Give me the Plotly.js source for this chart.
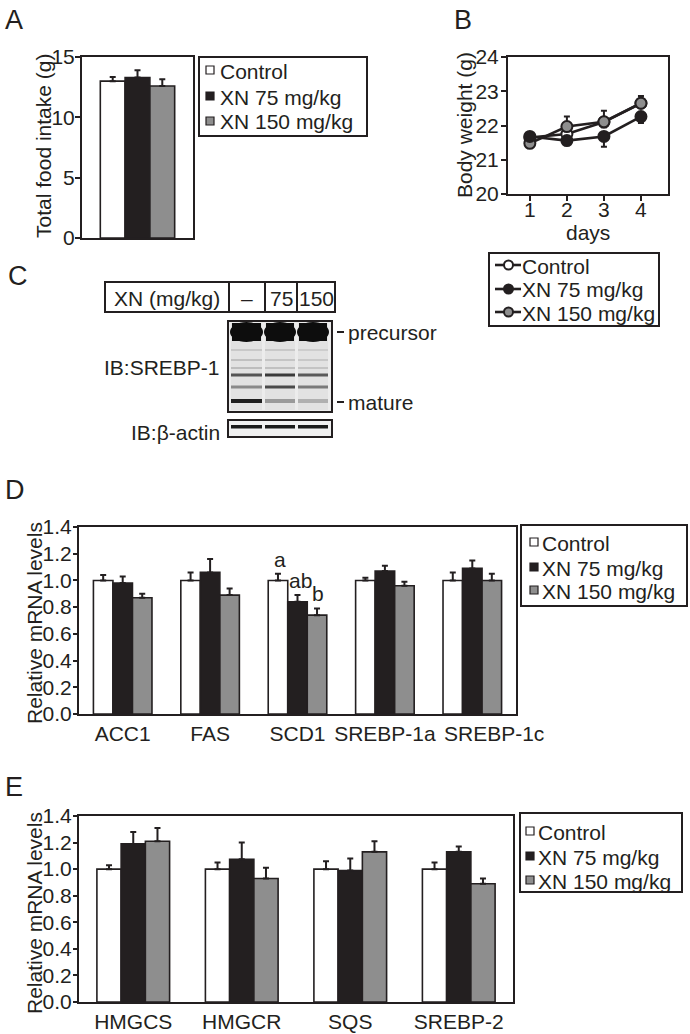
<!DOCTYPE html>
<html>
<head>
<meta charset="utf-8">
<script src="https://cdn.plot.ly/plotly-3.0.1.min.js"></script>
<style>html,body{margin:0;padding:0;background:#fff}#chart{width:690px;height:1034px}</style>
</head>
<body>
<div id="chart"></div>
<script>
// ---------------- DATA ----------------
const groups = ['Control', 'XN 75 mg/kg', 'XN 150 mg/kg'];

// A: total food intake (g)
const foodCategory = ['Total food intake'];
const foodMean = [13.0, 13.3, 12.6];
const foodErr = [0.35, 0.6, 0.55];

// B: body weight (g) by day
const days = [1, 2, 3, 4];
const bwControl = [21.65, 21.75, 22.10, 22.65];
const bwControlErr = [0.08, 0.10, 0.15, 0.12];
const bwXN75 = [21.68, 21.56, 21.68, 22.26];
const bwXN75Err = [0.05, 0.08, 0.30, 0.19];
const bwXN150 = [21.48, 21.97, 22.11, 22.65];
const bwXN150Err = [0.05, 0.29, 0.32, 0.21];

// C: western blot lane labels
const blotDoses = ['–', '75', '150'];

// D: lipogenic genes
const lipoGenes = ['ACC1', 'FAS', 'SCD1', 'SREBP-1a', 'SREBP-1c'];
const lipoControl = [1.00, 1.00, 1.00, 1.00, 1.00];
const lipoControlErr = [0.04, 0.06, 0.05, 0.02, 0.06];
const lipoXN75 = [0.98, 1.06, 0.84, 1.07, 1.09];
const lipoXN75Err = [0.05, 0.10, 0.05, 0.04, 0.06];
const lipoXN150 = [0.87, 0.89, 0.74, 0.96, 1.00];
const lipoXN150Err = [0.03, 0.05, 0.05, 0.03, 0.05];
const scd1Letters = ['a', 'ab', 'b'];

// E: cholesterogenic genes
const cholGenes = ['HMGCS', 'HMGCR', 'SQS', 'SREBP-2'];
const cholControl = [1.00, 1.00, 1.00, 1.00];
const cholControlErr = [0.03, 0.05, 0.06, 0.05];
const cholXN75 = [1.19, 1.075, 0.99, 1.13];
const cholXN75Err = [0.09, 0.125, 0.09, 0.04];
const cholXN150 = [1.21, 0.93, 1.13, 0.89];
const cholXN150Err = [0.10, 0.08, 0.08, 0.04];

// ---------------- STYLE ----------------
const W = 690, H = 1034;
const px = x => x / W;
const py = y => 1 - y / H;
const INK = '#231f20';
const fills = ['#ffffff', '#231f20', '#8e8e8e'];
const REG = '"Liberation Sans", Arial, sans-serif';

const traces = [];

function barTrace(x, y, err, i, xa, ya) {
  return {
    type: 'bar', x: x, y: y, name: groups[i], showlegend: false,
    xaxis: xa, yaxis: ya,
    marker: {color: fills[i], line: {color: INK, width: 1.6}},
    error_y: {type: 'data', symmetric: false, array: err, arrayminus: err.map(() => 0),
              color: INK, thickness: 2, width: 3},
    hoverinfo: 'skip'
  };
}

// A
for (let i = 0; i < 3; i++) {
  traces.push(barTrace(foodCategory, [foodMean[i]], [foodErr[i]], i, 'x', 'y'));
}
// B
const bwSeries = [
  {y: bwControl, e: bwControlErr, i: 0, up: true, down: true},
  {y: bwXN150, e: bwXN150Err, i: 2, up: true, down: false},
  {y: bwXN75, e: bwXN75Err, i: 1, up: false, down: true}
];
bwSeries.forEach(s => {
  traces.push({
    type: 'scatter', mode: 'lines+markers', x: days, y: s.y, name: groups[s.i],
    showlegend: false, xaxis: 'x2', yaxis: 'y2',
    line: {color: INK, width: 2.6},
    marker: {size: 11, color: fills[s.i], line: {color: INK, width: 2}},
    error_y: {type: 'data', symmetric: false,
              array: s.up ? s.e : s.e.map(() => 0),
              arrayminus: s.down ? s.e : s.e.map(() => 0),
              color: INK, thickness: 2, width: 3},
    hoverinfo: 'skip'
  });
});
// D
[[lipoControl, lipoControlErr], [lipoXN75, lipoXN75Err], [lipoXN150, lipoXN150Err]].forEach((d, i) => {
  traces.push(barTrace(lipoGenes, d[0], d[1], i, 'x3', 'y3'));
});
// E
[[cholControl, cholControlErr], [cholXN75, cholXN75Err], [cholXN150, cholXN150Err]].forEach((d, i) => {
  traces.push(barTrace(cholGenes, d[0], d[1], i, 'x4', 'y4'));
});

// ---------------- AXES ----------------
function frame(extra) {
  return Object.assign({
    showline: true, mirror: true, linecolor: INK, linewidth: 2,
    showgrid: false, zeroline: false, fixedrange: true,
    tickcolor: INK, tickwidth: 2
  }, extra);
}
const f21 = {family: REG, size: 21, color: INK};
// tick positions (category index); the last label of D sits a little right of its bars in the reference
const lipoTickPos = lipoGenes.map((g, i) => i === lipoGenes.length - 1 ? i + 0.25 : i);

const layout = {
  width: W, height: H,
  margin: {l: 0, r: 0, t: 0, b: 0},
  paper_bgcolor: '#fff', plot_bgcolor: '#fff',
  showlegend: false,
  barmode: 'group', bargap: 0.33, bargroupgap: 0,
  font: {family: REG, color: INK, size: 21},
  xaxis: frame({domain: [px(82), px(193)], anchor: 'y', type: 'category', range: [-0.5, 0.5],
                showticklabels: false, ticks: ''}),
  yaxis: frame({domain: [py(238), py(57)], anchor: 'x', range: [0, 15], dtick: 5,
                ticks: 'outside', ticklen: 5, ticklabelstandoff: -4, tickfont: f21}),
  xaxis2: frame({domain: [px(508), px(668)], anchor: 'y2', range: [0.41, 4.73], tickvals: days,
                 ticks: 'outside', ticklen: 5, ticklabelstandoff: -9, tickfont: f21}),
  yaxis2: frame({domain: [py(194), py(57)], anchor: 'x2', range: [20, 24], dtick: 1,
                 ticks: 'outside', ticklen: 5, ticklabelstandoff: -2, tickfont: f21}),
  xaxis3: frame({domain: [px(79), px(516)], anchor: 'y3', type: 'category', range: [-0.5, 4.5],
                 ticks: '', tickangle: 0, tickmode: 'array', tickvals: lipoTickPos, ticktext: lipoGenes,
                 tickfont: f21}),
  yaxis3: frame({domain: [py(714), py(527)], anchor: 'x3', range: [0, 1.4], dtick: 0.2, tickformat: '.1f',
                 ticks: 'outside', ticklen: 4, ticklabelstandoff: -3, tickfont: f21}),
  xaxis4: frame({domain: [px(79), px(513)], anchor: 'y4', type: 'category', range: [-0.5, 3.5],
                 ticks: '', tickangle: 0, tickfont: f21}),
  yaxis4: frame({domain: [py(1002), py(816)], anchor: 'x4', range: [0, 1.4], dtick: 0.2, tickformat: '.1f',
                 ticks: 'outside', ticklen: 4, ticklabelstandoff: -3, tickfont: f21}),
  shapes: [],
  annotations: []
};

const S = layout.shapes, A = layout.annotations;
function rectPx(x0, y0, x1, y1, fill, lineW, lineC) {
  S.push({type: 'rect', xref: 'paper', yref: 'paper', x0: px(x0), x1: px(x1), y0: py(y1), y1: py(y0),
          fillcolor: fill || 'rgba(0,0,0,0)', line: {width: lineW || 0, color: lineC || INK}});
}
function ellPx(x0, y0, x1, y1, fill, lineW) {
  S.push({type: 'circle', xref: 'paper', yref: 'paper', x0: px(x0), x1: px(x1), y0: py(y1), y1: py(y0),
          fillcolor: fill, line: {width: lineW || 0, color: INK}});
}
function linePx(x0, y0, x1, y1, w) {
  S.push({type: 'line', xref: 'paper', yref: 'paper', x0: px(x0), x1: px(x1), y0: py(y0), y1: py(y1),
          line: {width: w || 2, color: INK}});
}
function textPx(x, y, t, size, anchor, angle) {
  A.push({xref: 'paper', yref: 'paper', x: px(x), y: py(y), text: t, showarrow: false,
          xanchor: anchor || 'left', yanchor: 'middle', textangle: angle || 0,
          font: {family: REG, size: size || 21, color: INK}});
}

// panel labels
textPx(3, 20, 'A', 27, 'left');
textPx(452, 20, 'B', 27, 'left');
textPx(6, 276, 'C', 27, 'left');
textPx(3, 490, 'D', 27, 'left');
textPx(3, 787, 'E', 27, 'left');

// axis titles
textPx(44, 146, 'Total food intake (g)', 21, 'center', -90);
textPx(465, 125, 'Body weight (g)', 21, 'center', -90);
textPx(588, 233, 'days', 21, 'center');
textPx(34, 623, 'Relative mRNA levels', 21, 'center', -90);
textPx(34, 913, 'Relative mRNA levels', 21, 'center', -90);

// Legend A (bars)
rectPx(199, 57, 367, 136, '#fff', 2);
[70, 96, 121].forEach((yy, i) => {
  rectPx(206, yy - 4, 214, yy + 4, fills[i], 1.2);
  textPx(218, yy + 1, groups[i], 21, 'left');
});
// Legend B (lines)
rectPx(489, 253, 659, 326, '#fff', 2);
[265, 289, 312].forEach((yy, i) => {
  linePx(495, yy, 521, yy, 2.6);
  ellPx(504, yy - 4.5, 513, yy + 4.5, fills[i], 2);
  textPx(520, yy + 1, groups[i], 21, 'left');
});
// Legend D
rectPx(521, 525, 687, 606, '#fff', 2);
[542, 567, 590].forEach((yy, i) => {
  rectPx(530, yy - 4, 538, yy + 4, fills[i], 1.2);
  textPx(540, yy + 1, groups[i], 21, 'left');
});
// Legend E
rectPx(520, 813, 682, 892, '#fff', 2);
[831, 856, 880].forEach((yy, i) => {
  rectPx(526, yy - 4, 534, yy + 4, fills[i], 1.2);
  textPx(536, yy + 1, groups[i], 21, 'left');
});

// SCD1 significance letters (above each bar of the SCD1 group)
const scdIdx = lipoGenes.indexOf('SCD1');
const scdVals = [lipoControl[scdIdx], lipoXN75[scdIdx], lipoXN150[scdIdx]];
const scdErrs = [lipoControlErr[scdIdx], lipoXN75Err[scdIdx], lipoXN150Err[scdIdx]];
const letterShift = [-18, 3, 20];
scd1Letters.forEach((t, i) => {
  A.push({xref: 'x3', yref: 'y3', x: 'SCD1', y: scdVals[i] + scdErrs[i] + 0.11, text: t,
          showarrow: false, xshift: letterShift[i], yanchor: 'middle',
          font: {family: REG, size: 21, color: INK}});
});

// Panel C: dose table
rectPx(105, 282, 335, 312, '#fff', 2);
[229, 265, 297].forEach(xx => linePx(xx, 282, xx, 312, 2));
textPx(167, 298, 'XN (mg/kg)', 21, 'center');
const laneCenters = [247, 281, 316];
blotDoses.forEach((t, i) => textPx(laneCenters[i], 298, t, 21, 'center'));

// SREBP-1 blot (illustration)
rectPx(228, 321, 332, 412, '#ececec', 0);
const lanes = [[231, 262], [265, 295], [298, 328]];
lanes.forEach(l => rectPx(l[0], 323, l[1], 410, '#e2e2e2', 0));
lanes.forEach(l => {
  ellPx(l[0] - 1, 322, l[1] + 1, 342, '#0d0d0d', 0);
  rectPx(l[0] + 1, 323, l[1] - 1, 341, '#0d0d0d', 0);
});
const bands = [
  {y: 350, h: 2, c: ['#c8c8c8', '#c8c8c8', '#cdcdcd']},
  {y: 360, h: 2, c: ['#c0c0c0', '#c4c4c4', '#c8c8c8']},
  {y: 368, h: 2, c: ['#bdbdbd', '#c0c0c0', '#c4c4c4']},
  {y: 375, h: 3, c: ['#555', '#3a3a3a', '#5a5a5a']},
  {y: 387, h: 3, c: ['#8a8a8a', '#4a4a4a', '#7a7a7a']},
  {y: 401, h: 4, c: ['#1e1e1e', '#9a9a9a', '#b0b0b0']}
];
bands.forEach(b => lanes.forEach((l, i) =>
  rectPx(l[0], b.y - b.h / 2, l[1], b.y + b.h / 2, b.c[i], 0)));
rectPx(228, 321, 332, 412, 'rgba(0,0,0,0)', 2);
// beta-actin
rectPx(228, 420, 332, 437, '#f0f0f0', 0);
lanes.forEach(l => rectPx(l[0], 425, l[1], 428.5, '#1a1a1a', 0));
rectPx(228, 420, 332, 437, 'rgba(0,0,0,0)', 2);

textPx(222, 367, 'IB:SREBP-1', 21, 'right');
textPx(222, 433, 'IB:β-actin', 21, 'right');
linePx(337, 332, 344, 332, 2);
linePx(337, 402, 344, 402, 2);
textPx(346, 332, 'precursor', 21, 'left');
textPx(346, 402, 'mature', 21, 'left');

Plotly.newPlot('chart', traces, layout, {displayModeBar: false, staticPlot: true});
</script>
</body>
</html>
